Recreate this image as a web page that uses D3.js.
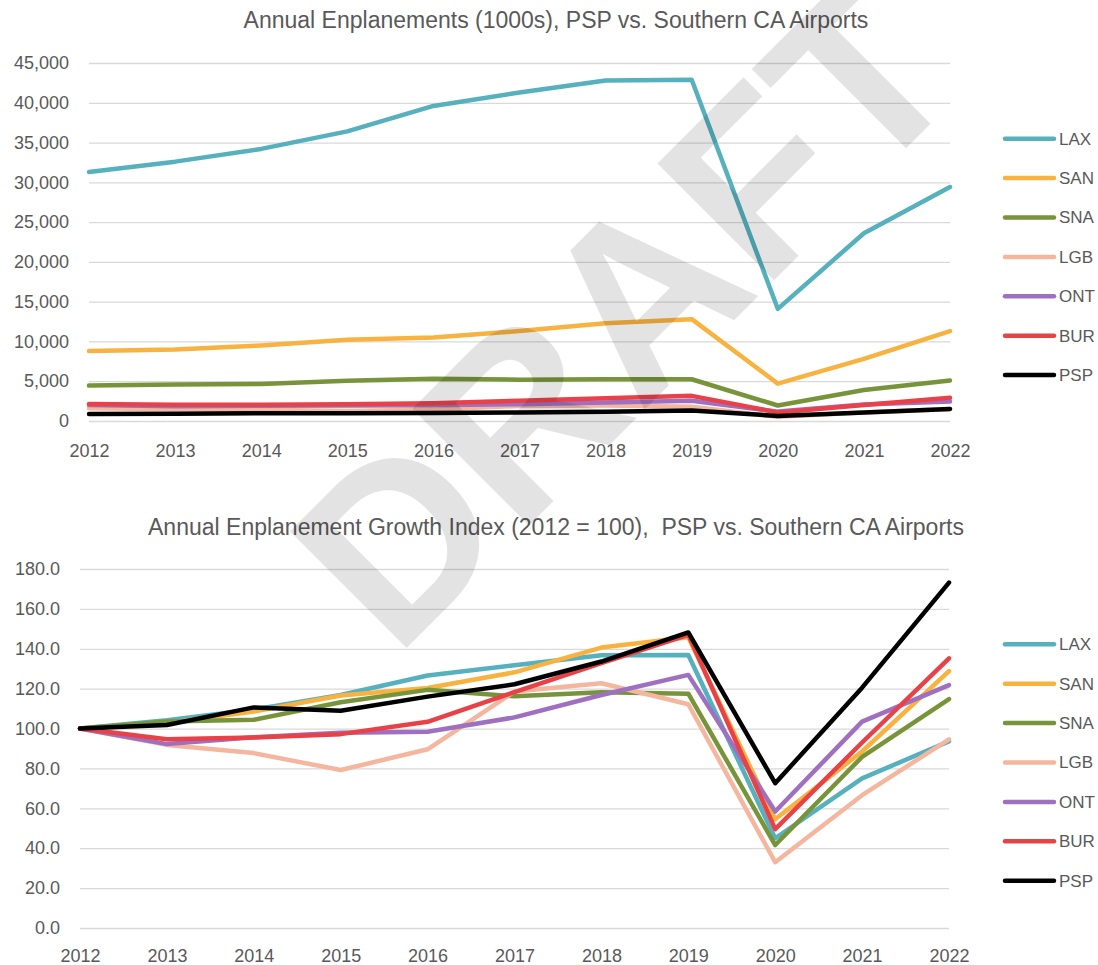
<!DOCTYPE html>
<html lang="en">
<head>
  <meta charset="UTF-8">
  <title>PSP vs. Southern CA Airports</title>
  <script src="https://d3js.org/d3.v7.min.js"></script>
  <style>
    body { margin: 0; background: #fff; }
    text { font-family: "Liberation Sans", Arial, sans-serif; fill: #595959; }
  </style>
</head>
<body>
<script>
  // years on the x axis
  const years = [2012, 2013, 2014, 2015, 2016, 2017, 2018, 2019, 2020, 2021, 2022];
  const airports = ["LAX", "SAN", "SNA", "LGB", "ONT", "BUR", "PSP"];

  // annual enplanements, 1000s
  const laxEnp = [31300, 32600, 34200, 36400, 39600, 41300, 42800, 42900, 14100, 23600, 29400];
  const sanEnp = [8800, 9000, 9500, 10200, 10500, 11300, 12300, 12800, 4700, 7800, 11300];
  const snaEnp = [4450, 4600, 4650, 5050, 5300, 5200, 5250, 5250, 1950, 3900, 5100];
  const lgbEnp = [1600, 1470, 1400, 1260, 1430, 1900, 1960, 1800, 530, 1060, 1510];
  const ontEnp = [2000, 1850, 1910, 1960, 1970, 2120, 2340, 2540, 1180, 2070, 2440];
  const burEnp = [2150, 2030, 2050, 2090, 2220, 2550, 2850, 3160, 1070, 2000, 2910];
  const pspEnp = [880, 900, 975, 960, 1020, 1075, 1175, 1305, 640, 1060, 1520];

  // growth index, 2012 = 100
  const laxIdx = [100, 104.2, 109.5, 116.8, 126.6, 131.7, 136.7, 136.9, 45.0, 75.0, 93.6];
  const sanIdx = [100, 102.8, 108.5, 116.6, 120.3, 128.2, 140.6, 145.8, 54.5, 88.5, 128.8];
  const snaIdx = [100, 103.6, 104.4, 113.2, 119.4, 116.2, 118.2, 117.5, 41.6, 85.8, 114.8];
  const lgbIdx = [100, 91.8, 87.7, 79.2, 89.6, 118.6, 122.7, 112.2, 33.0, 66.6, 94.6];
  const ontIdx = [100, 92.2, 95.6, 97.9, 98.4, 105.6, 116.8, 126.9, 58.4, 103.5, 121.8];
  const burIdx = [100, 94.6, 95.5, 97.2, 103.4, 118.3, 132.8, 147.0, 49.6, 93.0, 135.2];
  const pspIdx = [100, 101.8, 110.6, 108.9, 116.0, 122.2, 133.6, 148.2, 72.6, 120.5, 173.2];

  const enpTicks = [0, 5000, 10000, 15000, 20000, 25000, 30000, 35000, 40000, 45000];
  const idxTicks = [0, 20, 40, 60, 80, 100, 120, 140, 160, 180];

  const colors = ["#56b0be", "#f8b240", "#78943a", "#f4b69e", "#a070c0", "#e84248", "#000000"];

  const svg = d3.select("body")
    .append("svg")
    .attr("width", 1098)
    .attr("height", 965);

  function drawChart(opts) {
    const g = svg.append("g");

    const xScale = d3.scalePoint()
      .domain(years)
      .range([opts.left, opts.right]);

    const yScale = d3.scaleLinear()
      .domain([0, opts.max])
      .range([opts.bottom, opts.top]);

    // gridlines + y labels
    const yAxis = g.append("g")
      .attr("transform", "translate(" + opts.left + ",0)")
      .call(d3.axisLeft(yScale)
        .tickValues(opts.ticks)
        .tickFormat(opts.format)
        .tickSize(-(opts.right - opts.left))
        .tickPadding(20));
    yAxis.select(".domain").remove();
    yAxis.selectAll("line").attr("stroke", "#d9d9d9").attr("stroke-width", 1.3);
    yAxis.selectAll("text").style("font-size", "18px").attr("fill", "#595959");

    const xAxis = g.append("g")
      .attr("transform", "translate(0," + opts.bottom + ")")
      .call(d3.axisBottom(xScale).tickSize(0).tickPadding(opts.xPad));
    xAxis.select(".domain").remove();
    xAxis.selectAll("text").style("font-size", "18px").attr("fill", "#595959");

    const line = d3.line()
      .x((d, i) => xScale(years[i]))
      .y(d => yScale(d));

    opts.series.forEach((vals, k) => {
      g.append("path")
        .datum(vals)
        .attr("d", line)
        .attr("fill", "none")
        .attr("stroke", colors[k])
        .attr("stroke-width", 4.5)
        .attr("stroke-linejoin", "round")
        .attr("stroke-linecap", "round");
    });

    g.append("text")
      .attr("x", 556)
      .attr("y", opts.titleY)
      .attr("text-anchor", "middle")
      .style("font-size", "23px")
      .text(opts.title);

    // legend
    const legend = g.selectAll(".legend")
      .data(airports)
      .enter().append("g")
      .attr("transform", (d, i) => "translate(0," + (opts.legendY + i * 39.4) + ")");

    legend.append("line")
      .attr("x1", 1005)
      .attr("x2", 1054)
      .attr("stroke", (d, i) => colors[i])
      .attr("stroke-width", 4.5)
      .attr("stroke-linecap", "round");

    legend.append("text")
      .attr("x", 1059)
      .attr("dy", ".35em")
      .style("font-size", "17px")
      .text(d => d);
  }

  drawChart({
    left: 89, right: 950, top: 63, bottom: 421, max: 45000,
    ticks: enpTicks, format: d3.format(","), xPad: 23,
    series: [laxEnp, sanEnp, snaEnp, lgbEnp, ontEnp, burEnp, pspEnp],
    title: "Annual Enplanements (1000s), PSP vs. Southern CA Airports",
    titleY: 28, legendY: 138.7
  });

  drawChart({
    left: 80, right: 949, top: 569, bottom: 928, max: 180,
    ticks: idxTicks, format: d3.format(".1f"), xPad: 21,
    series: [laxIdx, sanIdx, snaIdx, lgbIdx, ontIdx, burIdx, pspIdx],
    title: "Annual Enplanement Growth Index (2012 = 100),\u00a0 PSP vs. Southern CA Airports",
    titleY: 535, legendY: 644.3
  });

  // watermark
  svg.append("text")
    .attr("transform", "translate(624,313) rotate(-45)")
    .attr("text-anchor", "middle")
    .attr("dominant-baseline", "central")
    .style("font-size", "240px")
    .style("font-weight", "bold")
    .style("fill", "#000")
    .style("fill-opacity", 0.11)
    .text("DRAFT");
</script>
</body>
</html>
